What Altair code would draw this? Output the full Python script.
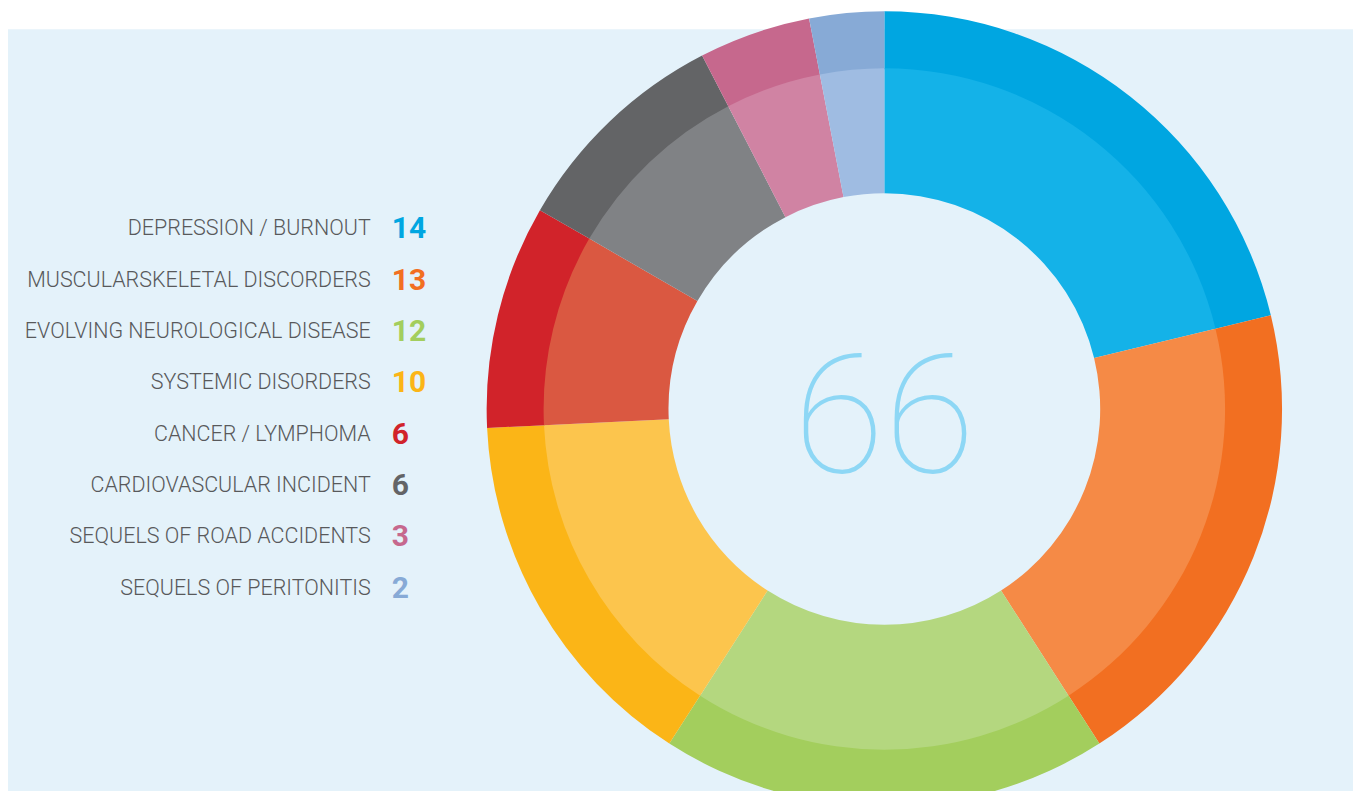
import altair as alt
import pandas as pd

categories = [
    "DEPRESSION / BURNOUT",
    "MUSCULARSKELETAL DISCORDERS",
    "EVOLVING NEUROLOGICAL DISEASE",
    "SYSTEMIC DISORDERS",
    "CANCER / LYMPHOMA",
    "CARDIOVASCULAR INCIDENT",
    "SEQUELS OF ROAD ACCIDENTS",
    "SEQUELS OF PERITONITIS",
]
values = [14, 13, 12, 10, 6, 6, 3, 2]
outer_colors = ["#00A6E1", "#F26F21", "#A3CE5D", "#FBB517", "#D1232A", "#636466", "#C6688D", "#87AAD6"]
inner_colors = ["#14B2E8", "#F58A46", "#B4D77F", "#FCC54D", "#DA5841", "#808285", "#D083A3", "#9FBCE2"]
total_label = str(sum(values))

df = pd.DataFrame({
    "idx": list(range(len(categories))),
    "category": categories,
    "value": values,
    "num": [str(v) for v in values],
    "outer": outer_colors,
    "inner": inner_colors,
})

W, H = 1346, 783
CX, CY = 877, 401
BG = "#E4F2FA"
FONT = "Roboto, Liberation Sans, sans-serif"

base = alt.Chart(df)

panel = alt.Chart(pd.DataFrame({"a": [0]})).mark_rect(color=BG).encode(
    x=alt.value(0), x2=alt.value(W), y=alt.value(21), y2=alt.value(785)
)

outer = base.mark_arc(outerRadius=398, innerRadius=340, stroke=None).encode(
    theta=alt.Theta("value:Q", stack=True),
    order=alt.Order("idx:Q", sort="ascending"),
    color=alt.Color("outer:N", scale=None),
    x=alt.value(CX), y=alt.value(CY),
)

inner = base.mark_arc(outerRadius=341, innerRadius=216, stroke=None).encode(
    theta=alt.Theta("value:Q", stack=True),
    order=alt.Order("idx:Q", sort="ascending"),
    color=alt.Color("inner:N", scale=None),
    x=alt.value(CX), y=alt.value(CY),
)

yscale = alt.Scale(domain=[0, 7], range=[221, 581])

labels = base.mark_text(
    align="right", baseline="middle", font=FONT, fontSize=21.5, fontWeight=300,
    color="#58595B"
).encode(
    x=alt.value(363),
    y=alt.Y("idx:Q", scale=yscale, axis=None),
    text="category:N",
)

nums = base.mark_text(
    align="left", baseline="middle", font=FONT, fontSize=30, fontWeight="bold"
).encode(
    x=alt.value(384),
    y=alt.Y("idx:Q", scale=yscale, axis=None),
    text="num:N",
    color=alt.Color("outer:N", scale=None),
)

center = alt.Chart(pd.DataFrame({"t": [total_label]})).mark_text(
    align="center", baseline="alphabetic", font="Roboto", fontWeight=100,
    fontSize=166, color="#8DD7F5"
).encode(x=alt.value(CX), y=alt.value(464), text="t:N")

chart = alt.layer(panel, outer, inner, labels, nums, center).properties(
    width=W, height=H, padding=0, autosize=alt.AutoSizeParams(type="none"),
    background="white"
).configure_view(stroke=None)

chart.save("out.html", embed_options={"renderer": "svg", "actions": False})
